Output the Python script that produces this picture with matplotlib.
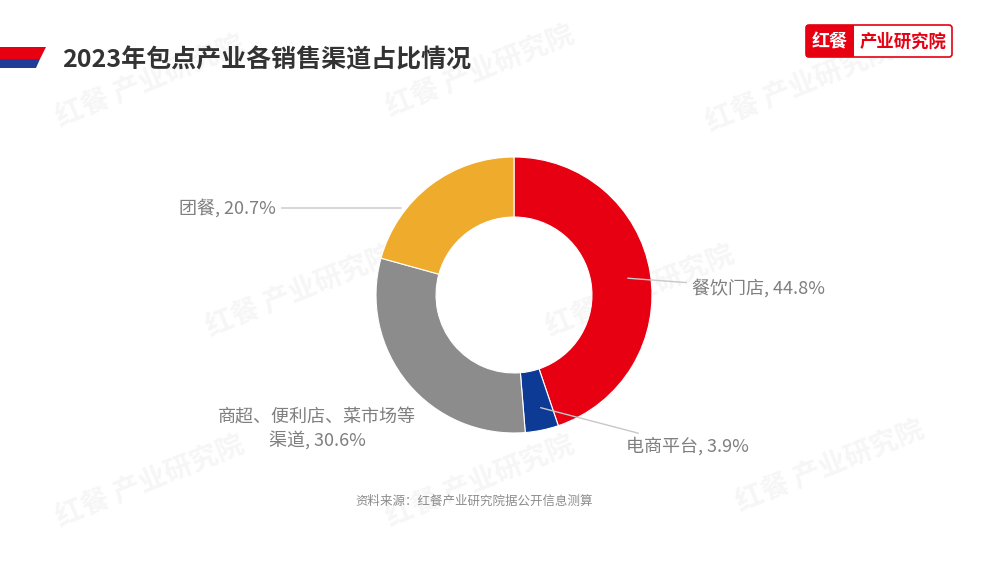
import matplotlib.pyplot as plt
from matplotlib.patches import Polygon, Rectangle, FancyBboxPatch

plt.rcParams['font.family'] = ['Noto Sans CJK SC', 'DejaVu Sans']

# data
channels = ['餐饮门店', '电商平台', '商超、便利店、菜市场等\n渠道', '团餐']
shares = [44.8, 3.9, 30.6, 20.7]
colors = ['#E60012', '#0D3A94', '#8C8C8C', '#EFAB2C']
title = '2023年包点产业各销售渠道占比情况'
source = '资料来源：红餐产业研究院据公开信息测算'

W, H = 1000, 563
fig = plt.figure(figsize=(W / 100, H / 100), dpi=100)
fig.patch.set_facecolor('white')

# background layer in pixel coords
bg = fig.add_axes([0, 0, 1, 1])
bg.set_xlim(0, W)
bg.set_ylim(H, 0)
bg.axis('off')

# faint watermarks
for wx, wy in [(150, 80), (480, 70), (800, 85), (300, 290), (640, 290),
               (480, 480), (830, 465), (150, 480)]:
    bg.text(wx, wy, '红餐 产业研究院', fontsize=20, fontweight='bold',
            color='#f6f6f6', rotation=22, ha='center', va='center', zorder=0)

# left title marker
bg.add_patch(Polygon([[0, 47], [46, 47], [40, 59], [0, 59]], closed=True,
                     facecolor='#E60012', edgecolor='none'))
bg.add_patch(Polygon([[0, 59], [40, 59], [36, 68], [0, 68]], closed=True,
                     facecolor='#1F3C99', edgecolor='none'))
bg.text(62, 60, title, fontsize=18, fontweight='bold', color='#333333',
        ha='left', va='center')

# logo top right
bg.add_patch(FancyBboxPatch((806, 25), 146, 32, boxstyle='round,pad=0,rounding_size=3',
                            facecolor='white', edgecolor='#E60012', linewidth=1.2))
bg.add_patch(Rectangle((806, 25), 48, 32, facecolor='#E60012', edgecolor='none'))
bg.text(830, 41.5, '红餐', fontsize=13, fontweight='bold', color='white',
        ha='center', va='center')
bg.text(903, 41.5, '产业研究院', fontsize=12.5, fontweight='bold', color='#E60012',
        ha='center', va='center')

bg.text(474, 501, source, fontsize=9, color='#8c8c8c', ha='center', va='center')

# donut
cx, cy, R = 514, 295, 138
ax = fig.add_axes([(cx - R) / W, (H - cy - R) / H, 2 * R / W, 2 * R / H])
ax.pie(shares, colors=colors, startangle=90, counterclock=False, radius=1,
       wedgeprops=dict(width=0.435, edgecolor='white', linewidth=0.8))
ax.set_xlim(-1, 1)
ax.set_ylim(-1, 1)
ax.axis('off')


def to_px(px, py):
    return ((px - cx) / R, (cy - py) / R)


lbl = dict(fontsize=13, color='#7f7f7f')
line = dict(arrowstyle='-', color='#c8c8c8', lw=1)

ax.annotate(f'{channels[0]}, {shares[0]}%', xy=to_px(625, 278), xytext=to_px(692, 288),
            ha='left', va='center', arrowprops=line, annotation_clip=False, **lbl)
ax.annotate(f'{channels[1]}, {shares[1]}%', xy=to_px(538, 407), xytext=to_px(626, 446),
            ha='left', va='center', arrowprops=line, annotation_clip=False, **lbl)
ax.annotate(f'{channels[3]}, {shares[3]}%', xy=to_px(404, 208), xytext=to_px(276, 208),
            ha='right', va='center', arrowprops=line, annotation_clip=False, **lbl)
ax.text(*to_px(317, 429), f'{channels[2]}, {shares[2]}%', ha='center', va='center',
        linespacing=1.25, **lbl)

fig.savefig('out.png', dpi=100, facecolor='white')
